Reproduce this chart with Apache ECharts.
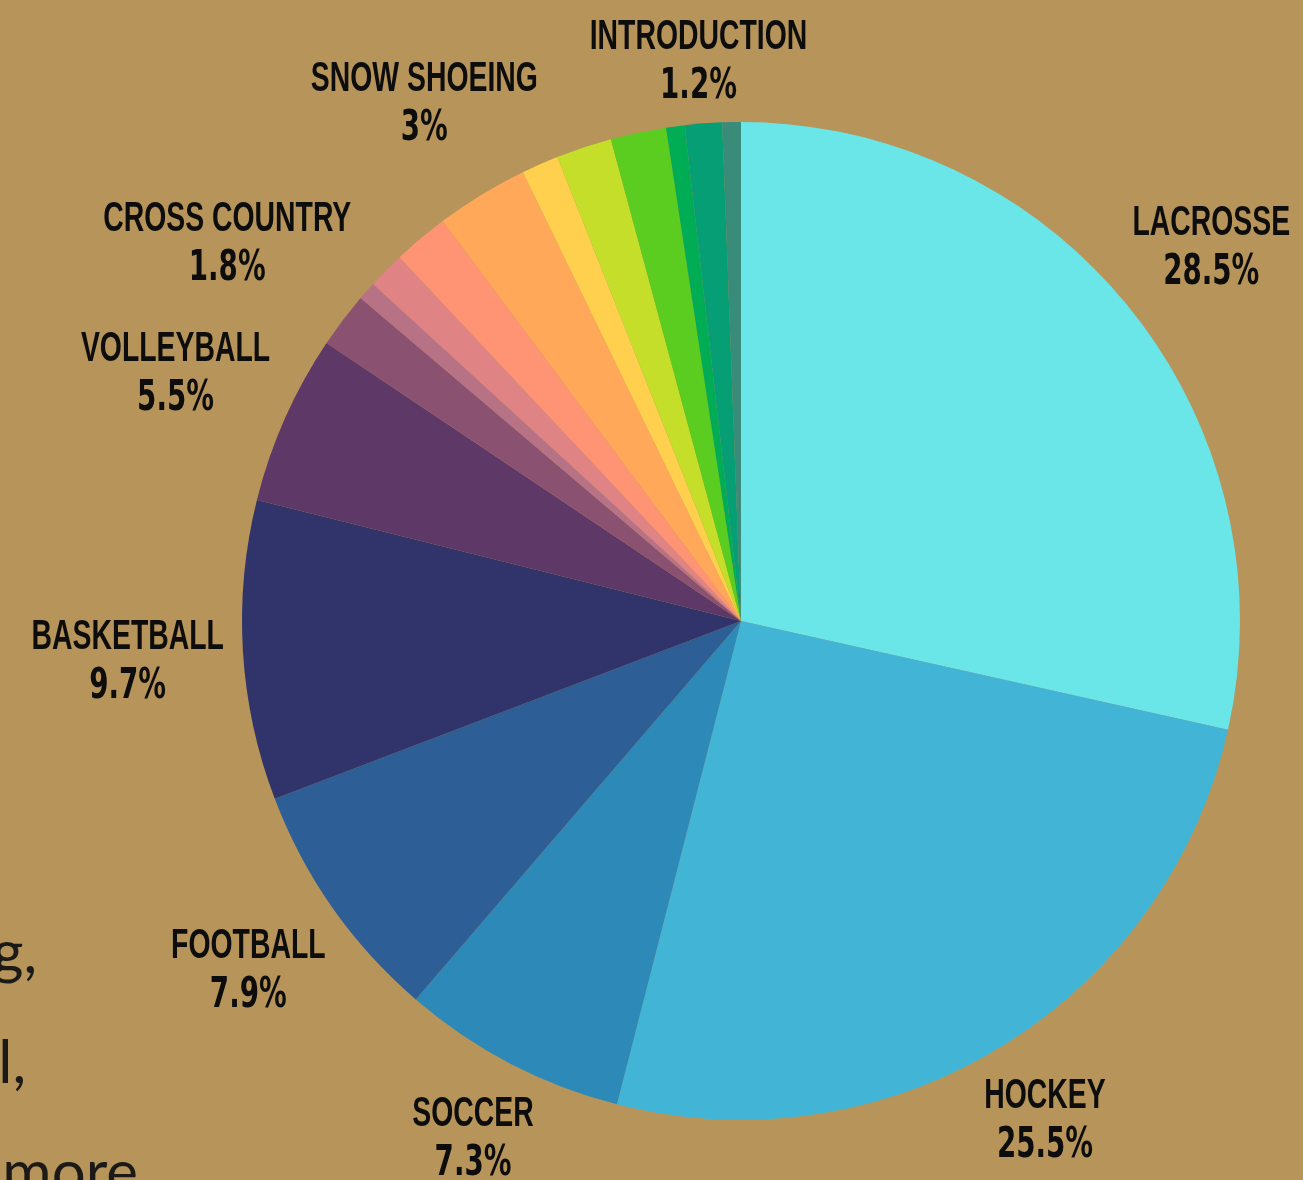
<!DOCTYPE html>
<html>
<head>
<meta charset="utf-8">
<script src="https://cdn.jsdelivr.net/npm/echarts@6/dist/echarts.min.js"></script>
<style>
html,body{margin:0;padding:0;background:#b7955a;}
#chart{width:1303px;height:1180px;}
</style>
</head>
<body>
<div id="chart"></div>
<script>
// ---- data ----
const categories = ['LACROSSE','HOCKEY','SOCCER','FOOTBALL','BASKETBALL','VOLLEYBALL',
  'TENNIS','GOLF','SWIMMING','CROSS COUNTRY','SNOW SHOEING','SKIING',
  'TRACK','BASEBALL','WRESTLING','INTRODUCTION','OTHER'];
const values = [28.5, 25.5, 7.3, 7.9, 9.7, 5.5, 1.8, 0.6, 1.2, 1.8, 3, 1.2, 1.8, 1.8, 0.6, 1.2, 0.6];
const labeled = ['LACROSSE','HOCKEY','SOCCER','FOOTBALL','BASKETBALL','VOLLEYBALL','CROSS COUNTRY','SNOW SHOEING','INTRODUCTION'];
const colors = ['#6ae5e8','#42b5d6','#2d8ab8','#2e5e96','#30346b','#5e3866','#8a5270','#b87285',
  '#e08385','#ff9474','#ffa85a','#ffd04d','#c5de2a','#5bcc20','#00ad55','#069e74','#398b7a'];
const sideText = [
  {text:'g,', right:37, baseline:982},
  {text:'l,', right:26, baseline:1092},
  {text:'more', right:138, baseline:1202}
];

// ---- layout ----
const CX = 741, CY = 621, R = 499, GAP = 17, HALF_H = 40, DY = 4;
const LABEL_SCALE_X = 0.66;
const labelAngleNudge = {'CROSS COUNTRY': -13.5};
const total = values.reduce((a,b)=>a+b,0);
const cum = [];
values.reduce((acc,v,i)=>{cum[i]=acc;return acc+v;},0);

const chart = echarts.init(document.getElementById('chart'));

chart.setOption({
  backgroundColor:'#b7955a',
  animation:false,
  graphic: sideText.map(t=>({
    type:'text', right: 1303 - t.right, top: t.baseline - 58,
    style:{text:t.text, font:"400 60px 'Lato','Open Sans',sans-serif", fill:'#1b1a17', textAlign:'right', textVerticalAlign:'top'},
    silent:true
  })),
  series:[{
    type:'pie',
    center:[CX, CY],
    radius:[0, R],
    startAngle:90,
    clockwise:true,
    avoidLabelOverlap:false,
    itemStyle:{borderWidth:0},
    emphasis:{disabled:true},
    labelLine:{show:false},
    label:{
      show:true,
      position:'outside',
      formatter:'{n|{b}}\n{p|{c}%}',
      color:'#0d0d0d',
      align:'center',
      rich:{
        n:{fontFamily:"'Liberation Sans','Arimo',sans-serif", fontWeight:'bold', fontSize:43, lineHeight:50, color:'#0d0d0d'},
        p:{fontFamily:"'DejaVu Sans',sans-serif", fontWeight:'bold', fontSize:42, lineHeight:50, color:'#0d0d0d'}
      }
    },
    labelLayout:function(p){
      const i = p.dataIndex;
      const name = categories[i];
      const deg = (cum[i] + values[i]/2)/total*360 + (labelAngleNudge[name]||0);
      const a = deg*Math.PI/180;
      const s = Math.sin(a), c = Math.cos(a);
      const w = p.labelRect.width*LABEL_SCALE_X;
      const d = R + GAP + Math.abs(s)*w/2 + Math.abs(c)*HALF_H;
      return {x: CX + d*s, y: CY - d*c + DY, align:'center', verticalAlign:'middle'};
    },
    data: categories.map((n,i)=>({
      name:n, value:values[i],
      itemStyle:{color:colors[i]},
      label:{show: labeled.indexOf(n) >= 0}
    }))
  }]
});

// condense the label glyphs horizontally (narrow display face)
const pieData = chart.getModel().getSeriesByIndex(0).getData();
pieData.each(function(i){
  const el = pieData.getItemGraphicEl(i);
  const txt = el && el.getTextContent && el.getTextContent();
  if (txt) { txt.scaleX = LABEL_SCALE_X; txt.markRedraw(); }
});
</script>
</body>
</html>
